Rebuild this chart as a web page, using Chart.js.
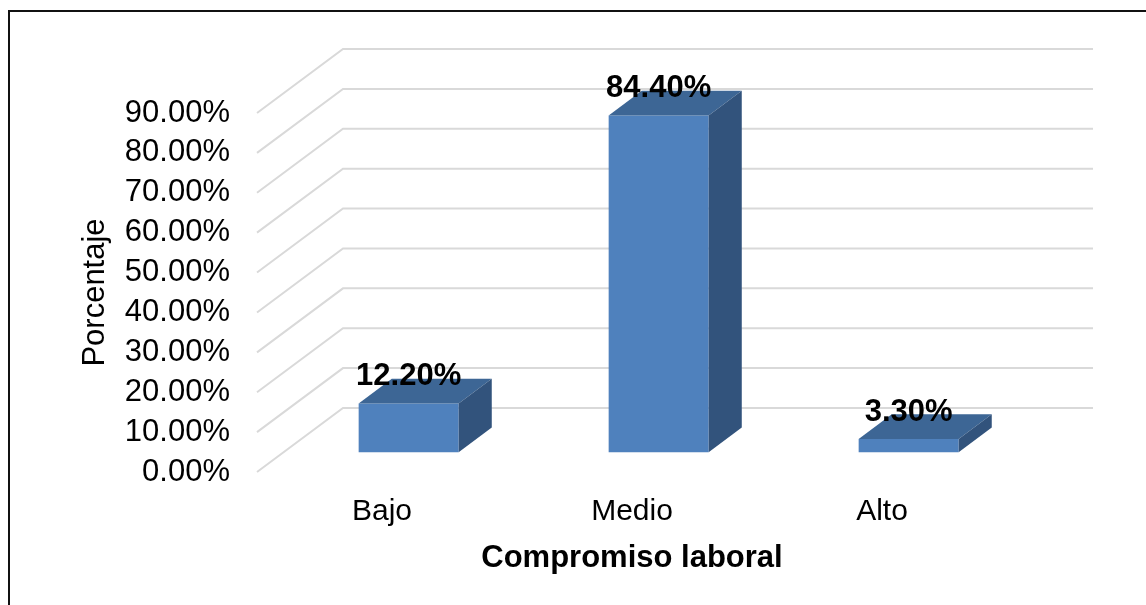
<!DOCTYPE html>
<html><head><meta charset="utf-8">
<script src="https://cdn.jsdelivr.net/npm/chart.js@4.4.1/dist/chart.umd.min.js"></script>
<style>
html,body{margin:0;padding:0;background:#fff;overflow:hidden;}
#wrap{position:relative;width:1146px;height:605px;overflow:hidden;}
#frame{position:absolute;left:8px;top:10px;width:1200px;height:700px;border-left:2px solid #111;border-top:2px solid #111;pointer-events:none;}
canvas{position:absolute;left:0;top:0;}
</style></head>
<body><div id="wrap"><canvas id="c" width="1146" height="605"></canvas><div id="frame"></div></div>
<script>
const categories = ['Bajo', 'Medio', 'Alto'];
const values = [12.2, 84.4, 3.3];
const valueLabels = ['12.20%', '84.40%', '3.30%'];
const yTickValues = [0, 10, 20, 30, 40, 50, 60, 70, 80, 90];
const yTitle = 'Porcentaje';
const xTitle = 'Compromiso laboral';

const FONT = "'Liberation Sans', Arial, sans-serif";
const DEPTH_X = 86, DEPTH_Y = 64;      // full floor depth
const BAR_OFF = 0.31;                  // bar front plane depth fraction
const BAR_DEPTH = 0.385;               // bar depth fraction

const threeD = {
  id: 'threeD',
  beforeDatasetsDraw(chart) {
    const {ctx, chartArea: {left, right}, scales: {y}} = chart;
    ctx.save();
    ctx.strokeStyle = '#D9D9D9';
    ctx.lineWidth = 2;
    for (const v of yTickValues) {
      const py = y.getPixelForValue(v);
      ctx.beginPath();
      ctx.moveTo(left, py);
      ctx.lineTo(left + DEPTH_X, py - DEPTH_Y);
      ctx.lineTo(right + DEPTH_X, py - DEPTH_Y);
      ctx.stroke();
    }
    ctx.restore();
    ctx.save();
    ctx.translate(DEPTH_X * BAR_OFF, -DEPTH_Y * BAR_OFF);
  },
  afterDatasetsDraw(chart) {
    const {ctx} = chart;
    const dx = DEPTH_X * BAR_DEPTH, dy = DEPTH_Y * BAR_DEPTH;
    const meta = chart.getDatasetMeta(0);
    meta.data.forEach(bar => {
      const {x, y, base, width} = bar.getProps(['x', 'y', 'base', 'width'], true);
      const l = x - width / 2, r = x + width / 2;
      // top face
      ctx.fillStyle = '#3D6695';
      ctx.beginPath();
      ctx.moveTo(l, y); ctx.lineTo(r, y); ctx.lineTo(r + dx, y - dy); ctx.lineTo(l + dx, y - dy);
      ctx.closePath(); ctx.fill();
      // side face
      ctx.fillStyle = '#32537C';
      ctx.beginPath();
      ctx.moveTo(r, y); ctx.lineTo(r + dx, y - dy); ctx.lineTo(r + dx, base - dy); ctx.lineTo(r, base);
      ctx.closePath(); ctx.fill();
    });
    ctx.restore();
    // data labels
    ctx.save();
    ctx.font = "bold 31px " + FONT;
    ctx.fillStyle = '#000';
    ctx.textAlign = 'center';
    ctx.textBaseline = 'middle';
    meta.data.forEach((bar, i) => {
      const {x, y} = bar.getProps(['x', 'y'], true);
      ctx.fillText(valueLabels[i], x + DEPTH_X * BAR_OFF, y - DEPTH_Y * BAR_OFF - 27);
    });
    ctx.restore();
  }
};

new Chart(document.getElementById('c'), {
  type: 'bar',
  data: {
    labels: categories,
    datasets: [{
      data: values,
      backgroundColor: '#4F81BD',
      borderWidth: 0,
      barPercentage: 0.4,
      categoryPercentage: 1.0,
      clip: false
    }]
  },
  options: {
    responsive: false,
    animation: false,
    devicePixelRatio: 1,
    layout: {padding: {top: 113, right: 139, left: 0, bottom: 0}},
    plugins: {legend: {display: false}, tooltip: {enabled: false}},
    scales: {
      x: {
        grid: {display: false},
        border: {display: false},
        ticks: {color: '#000', font: {family: FONT, size: 30}, padding: 14},
        title: {display: true, text: xTitle, color: '#000', font: {family: FONT, size: 31, weight: 'bold'}, padding: {top: 0, bottom: 28}},
        afterFit(scale) { scale.height = 133; }
      },
      y: {
        min: 0, max: 90,
        grid: {display: false},
        border: {display: false},
        afterBuildTicks(scale) { scale.ticks = yTickValues.map(v => ({value: v})); },
        ticks: {
          autoSkip: false,
          color: '#000',
          font: {family: FONT, size: 31},
          padding: 19,
          callback: v => v.toFixed(2) + '%'
        },
        title: {display: true, text: yTitle, color: '#000', font: {family: FONT, size: 31}, padding: {top: 77, bottom: 0}},
        afterFit(scale) { scale.width = 257; }
      }
    }
  },
  plugins: [threeD]
});
</script>
</body></html>
